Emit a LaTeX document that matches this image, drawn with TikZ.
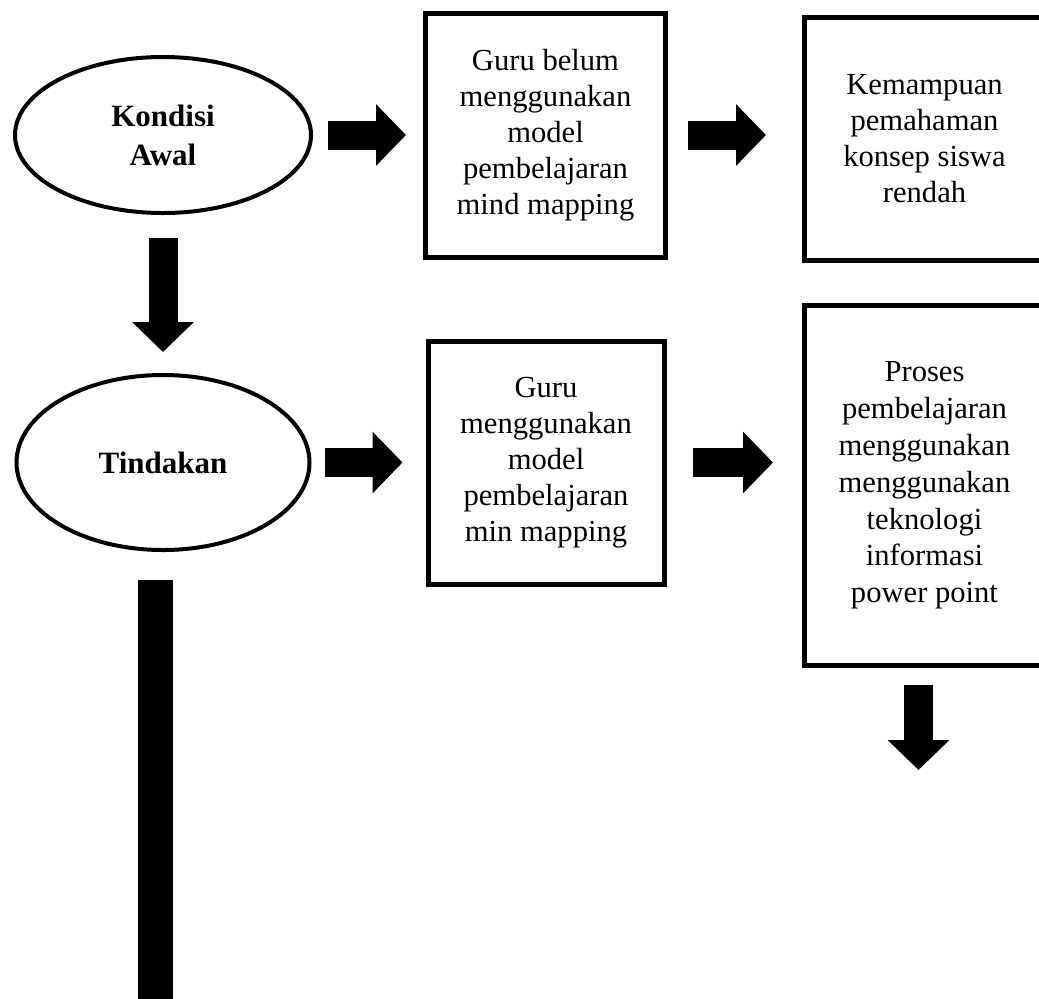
\documentclass[tikz,border=0pt]{standalone}
\usepackage{fontspec}
\setmainfont{Liberation Serif}
\usetikzlibrary{arrows.meta,positioning,shapes.geometric}

\begin{document}
\begin{tikzpicture}[
    kondisi/.style={ellipse, draw=black, line width=2pt, align=center, font=\fontsize{15.5pt}{19.5pt}\selectfont\bfseries},
    box/.style={rectangle, draw=black, line width=2.5pt, align=center, minimum width=118pt, minimum height=121.5pt, font=\fontsize{15.3pt}{18pt}\selectfont},
    blok/.style={line width=14.5pt, -{Triangle[length=15pt, width=30pt]}},
    tiang/.style={line width=17.5pt}
]
\useasboundingbox (0,0) rectangle (519.5pt,-499pt);

\node[kondisi, minimum width=148pt, minimum height=78pt] (awal) at (81.5pt,-67.5pt) {Kondisi\\Awal};
\node[box, minimum width=120pt, minimum height=122pt, right=55pt of awal] (belum) {Guru belum\\menggunakan\\model\\pembelajaran\\mind mapping};
\node[box, minimum width=120pt, right=67pt of belum, yshift=-2pt] (rendah) {Kemampuan\\pemahaman\\konsep siswa\\rendah};
\node[kondisi, minimum width=146.5pt, minimum height=87.5pt, below=79pt of awal] (tindakan) {Tindakan};
\node[box, right=57pt of tindakan] (mind) {Guru\\menggunakan\\model\\pembelajaran\\min mapping};
\node[box, minimum width=120pt, minimum height=180pt, below=20pt of rendah, font=\fontsize{15.3pt}{18.4pt}\selectfont] (proses) {Proses\\pembelajaran\\menggunakan\\menggunakan\\teknologi\\informasi\\power point};

\coordinate (lanjut) at ([xshift=-3pt, yshift=-51pt]proses.south);
\coordinate (terus) at ([xshift=-4pt, yshift=-240pt]tindakan.south);

\draw[blok, shorten <=7.5pt, shorten >=8.5pt] (awal) -- (belum);
\draw[blok, shorten <=10pt, shorten >=18pt] (belum.east) -- (belum.east -| rendah.west);
\draw[blok, shorten <=11.5pt, shorten >=10.5pt] (awal.south) -- (awal.south |- tindakan.north);
\draw[blok, shorten <=6.5pt, shorten >=11.5pt] (tindakan) -- (mind);
\draw[blok, shorten <=13pt, shorten >=14.5pt] (mind.east) -- (mind.east -| proses.west);
\draw[blok, shorten <=8.5pt] ([xshift=-3pt]proses.south) -- (lanjut);
\draw[tiang, shorten <=14pt] ([xshift=-4pt]tindakan.south) -- (terus);

\end{tikzpicture}
\end{document}
